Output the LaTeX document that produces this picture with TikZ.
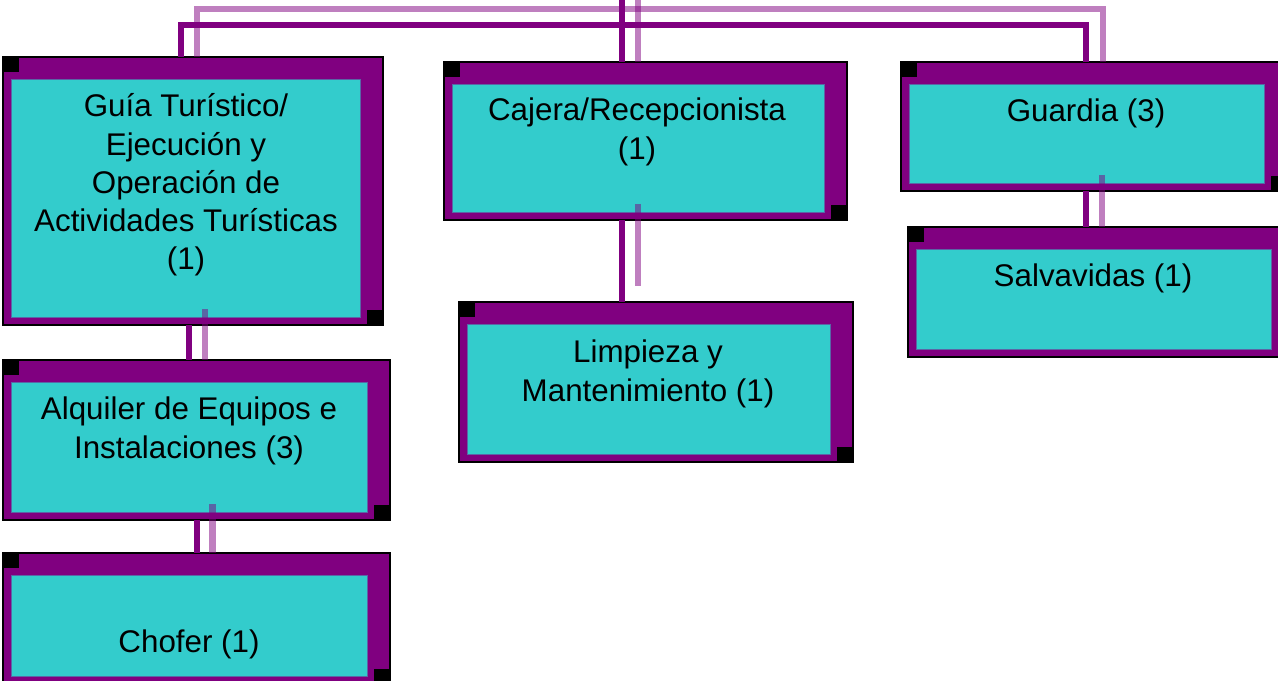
\documentclass[tikz,border=0pt]{standalone}
\usepackage{fontspec}
\setmainfont{Liberation Sans}
\usetikzlibrary{calc}
\definecolor{pur}{HTML}{800080}
\definecolor{tl}{HTML}{33CCCC}
\definecolor{edgec}{HTML}{5A66A6}
\tikzset{
 outerbox/.style={draw=black, fill=pur, line width=0.9pt, inner sep=0pt, outer sep=0pt},
 innerbox/.style={draw=edgec, fill=tl, line width=0.6pt, inner sep=0pt, outer sep=0pt},
 lbl/.style={align=center, font=\fontsize{23.5}{28.7}\selectfont, inner sep=0pt},
 dk/.style={draw=pur, line width=4.5pt},
 lt/.style={draw=pur, draw opacity=0.5, line width=5.2pt},
}
\newcommand\orgbox[5]{%
 \node[outerbox, anchor=north west, minimum width={(#4-#2)*0.75pt}, minimum height={(#5-#3)*0.75pt}] (#1) at (#2,#3) {};
 \node[innerbox, anchor=north west, minimum width={(#4-#2-31)*0.75pt}, minimum height={(#5-#3-30)*0.75pt}] (#1in) at (#2+8,#3+22) {};
 \fill[black] (#1.north west) rectangle ++(16,15);
 \fill[black] (#1.south east) rectangle ++(-16,-15);
}
\begin{document}
\begin{tikzpicture}[x=0.75pt,y=-0.75pt]
\useasboundingbox (0,0) rectangle (1278,681);
\clip (0,0) rectangle (1278,681);
\fill[white] (0,0) rectangle (1278,681);
\orgbox{bA}{3}{57}{383}{325}
\orgbox{bB}{3}{360}{390}{520}
\orgbox{bC}{3}{553}{390}{684}
\orgbox{bD}{444}{62}{847}{220}
\orgbox{bE}{459}{302}{853}{462}
\orgbox{bF}{901}{62}{1287}{191}
\orgbox{bG}{908}{227}{1294}{357}
\coordinate (topd) at (622,-5);
\coordinate (topl) at (638,-5);
% top connectors
\draw[dk] (topd) -- (bD.north -| topd);
\draw[lt] (topl) -- (bD.north -| topl);
\draw[dk] (bA.north -| 181,0) -- (181,25) -- (1086,25) -- (bF.north -| 1086,0);
\draw[lt] (bA.north -| 197,0) -- (197,9) -- (1103,9) -- (bF.north -| 1103,0);
% vertical connectors
\draw[dk] (bA.south -| 189,0) -- (bB.north -| 189,0);
\draw[lt] ($(bA.south -| 205,0)+(0,-16)$) -- (bB.north -| 205,0);
\draw[dk] (bB.south -| 196.5,0) -- (bC.north -| 196.5,0);
\draw[lt] ($(bB.south -| 212.5,0)+(0,-16)$) -- (bC.north -| 212.5,0);
\draw[dk] (bD.south -| 622,0) -- (bE.north -| 622,0);
\draw[lt] ($(bD.south -| 638,0)+(0,-16)$) -- ($(bE.north -| 638,0)+(0,-16)$);
\draw[dk] (bF.south -| 1086,0) -- (bG.north -| 1086,0);
\draw[lt] ($(bF.south -| 1102,0)+(0,-16)$) -- (bG.north -| 1102,0);
% labels
\node[lbl] (tA) at (186,185) {Guía Turístico/\\Ejecución y\\Operación de\\Actividades Turísticas\\(1)};
\node[lbl] (tB) at (189,431) {Alquiler de Equipos e\\Instalaciones (3)};
\node[lbl, anchor=base] (tC) at (189,652) {Chofer (1)};
\node[lbl] (tD) at (637,132) {Cajera/Recepcionista\\(1)};
\node[lbl] (tE) at (648,374) {Limpieza y\\Mantenimiento (1)};
\node[lbl, anchor=base] (tF) at (1086,122) {Guardia (3)};
\node[lbl, anchor=base] (tG) at (1093,286) {Salvavidas (1)};
\end{tikzpicture}
\end{document}
